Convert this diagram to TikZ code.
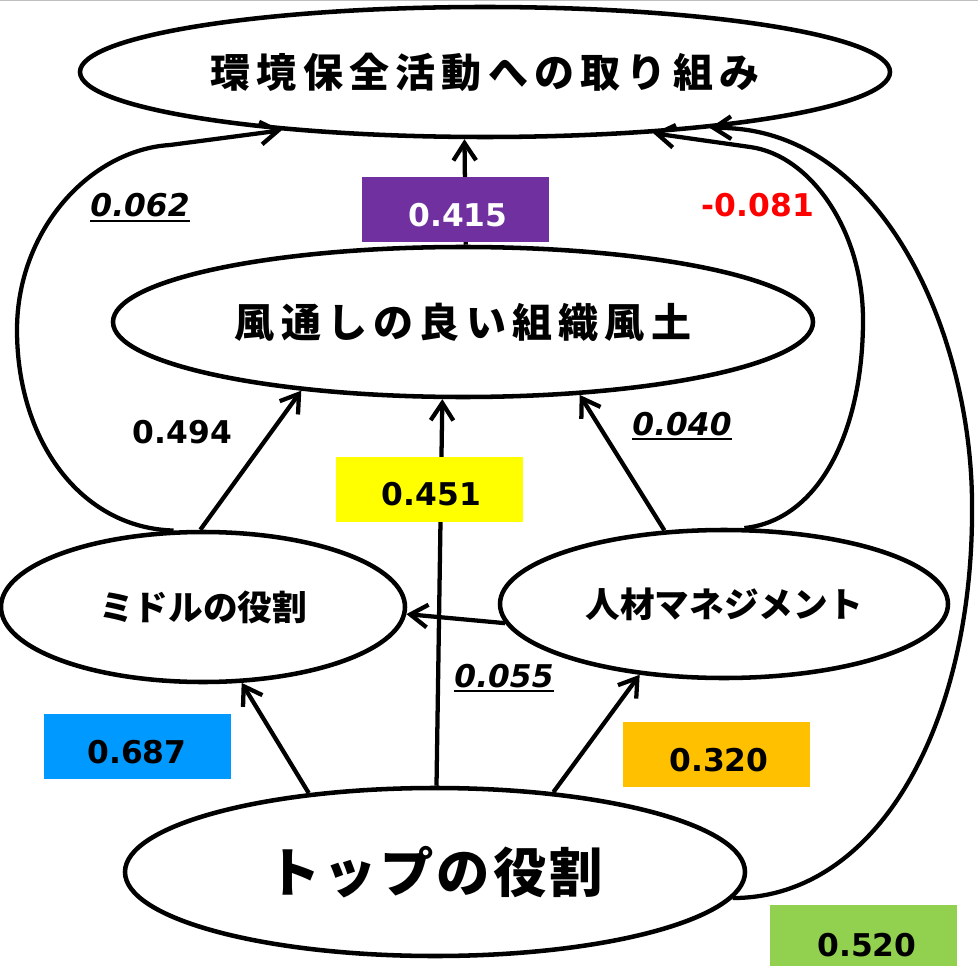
\documentclass[tikz,border=0pt]{standalone}
\usepackage{fontspec}
\setmainfont{DejaVu Sans}
\newfontfamily\jp{Noto Sans CJK JP}
\usetikzlibrary{shapes.geometric,arrows.meta}
\definecolor{cpurple}{HTML}{7030A0}
\definecolor{cyellow}{HTML}{FFFF00}
\definecolor{cblue}{HTML}{0099FF}
\definecolor{corange}{HTML}{FFC000}
\definecolor{cgreen}{HTML}{92D050}
\definecolor{cred}{HTML}{FF0000}
\makeatletter
\newcommand\jsp[2]{\def\jsp@gap{#1}\jsp@loop#2\@nil}
\def\jsp@loop#1#2\@nil{#1\ifx\relax#2\relax\else\hspace{\jsp@gap}\jsp@loop#2\@nil\fi}
\makeatother
\newcommand\uln[1]{\setbox0\hbox{#1}\rlap{\rule[-4pt]{\wd0}{1.6pt}}\box0}
\begin{document}
\begin{tikzpicture}[x=0.75pt,y=-0.75pt,
  ell/.style={draw, ellipse, line width=3.4pt, inner sep=0pt},
  jbig/.style={font=\jp\bfseries\fontsize{30}{33}\selectfont},
  jmid/.style={font=\jp\bfseries\fontsize{26}{29}\selectfont},
  jtop/.style={font=\jp\bfseries\fontsize{40}{44}\selectfont},
  num/.style={font=\bfseries\fontsize{23.5}{26}\selectfont, inner sep=0pt, anchor=base},
  inum/.style={num, font=\bfseries\itshape\fontsize{23.5}{26}\selectfont},
  valbox/.style={inner sep=0pt, minimum width=140.25pt, minimum height=48.75pt},
  arr/.style={line width=3.2pt, -{Straight Barb[length=13pt,width=17pt]}}
]
\useasboundingbox (0,0) rectangle (978,966);
\draw[black!25, line width=0.75pt] (0,0.5) -- (978,0.5);

% ellipses
\node[ell, jbig, minimum width=607.5pt, minimum height=97.5pt] (E1) at (485,72) {\jsp{4.7pt}{環境保全活動への取り組み}};
\node[ell, jbig, minimum width=525pt, minimum height=112.5pt] (E2) at (463,322) {\jsp{4.7pt}{風通しの良い組織風土}};
\node[ell, jmid, minimum width=303pt, minimum height=112.5pt] (E3) at (203,607) {\jsp{0pt}{ミドルの役割}};
\node[ell, jmid, minimum width=336pt, minimum height=111pt] (E4) at (724,604) {\jsp{0pt}{人材マネジメント}};
\node[ell, jtop, minimum width=465pt, minimum height=126pt] (E5) at (435,872) {\jsp{2.4pt}{トップの役割}};

% connectors
\draw[arr] (E2.88.5) -- (E1.253.4);
\draw[arr] (E3.92.2) -- (E2.203);
\draw[arr] (E5.89.3) -- (E2.255.4);
\draw[arr] (E4.129.8) -- (E2.328.2);
\draw[arr] (E4.185.5) -- (E3.358.6);
\draw[arr] (E5.148.7) -- (E3.297.9);
\draw[arr] (E5.34.8) -- (E4.220.4);
\draw[arr] (E3.111.5) .. controls (80,528) and (17,440) .. (17,330)
  .. controls (17,230) and (90,150) .. (170,145) -- (E1.196.1);
\draw[arr] (E4.75.9) .. controls (820,520) and (863,430) .. (863,320)
  .. controls (863,230) and (810,155) .. (750,147) -- (E1.340.6);
\draw[arr] (E5.355) .. controls (880,898) and (975,720) .. (972,500)
  .. controls (970,330) and (880,125) .. (E1.346.65);

% value boxes
\node[valbox, fill=cpurple] (B415) at (455.5,209.5) {};
\node[num, text=white] (T415) at (458,227) {0.415};
\node[valbox, fill=cyellow] (B451) at (429.5,489) {};
\node[num] (T451) at (431.5,505) {0.451};
\node[valbox, fill=cblue] (B687) at (137,746.5) {};
\node[num] (T687) at (137,763) {0.687};
\node[valbox, fill=corange] (B320) at (716,754) {};
\node[num] (T320) at (719,771) {0.320};
\node[valbox, fill=cgreen] (B520) at (863.5,937.5) {};
\node[num] (T520) at (867,956) {0.520};

% plain labels
\node[inum] (T062) at (140,216.5) {\uln{0.062}};
\node[num, text=cred] (T081) at (758,217) {-0.081};
\node[num] (T494) at (182.5,443) {0.494};
\node[inum] (T040) at (682,435) {\uln{0.040}};
\node[inum] (T055) at (504,687) {\uln{0.055}};
\end{tikzpicture}
\end{document}
